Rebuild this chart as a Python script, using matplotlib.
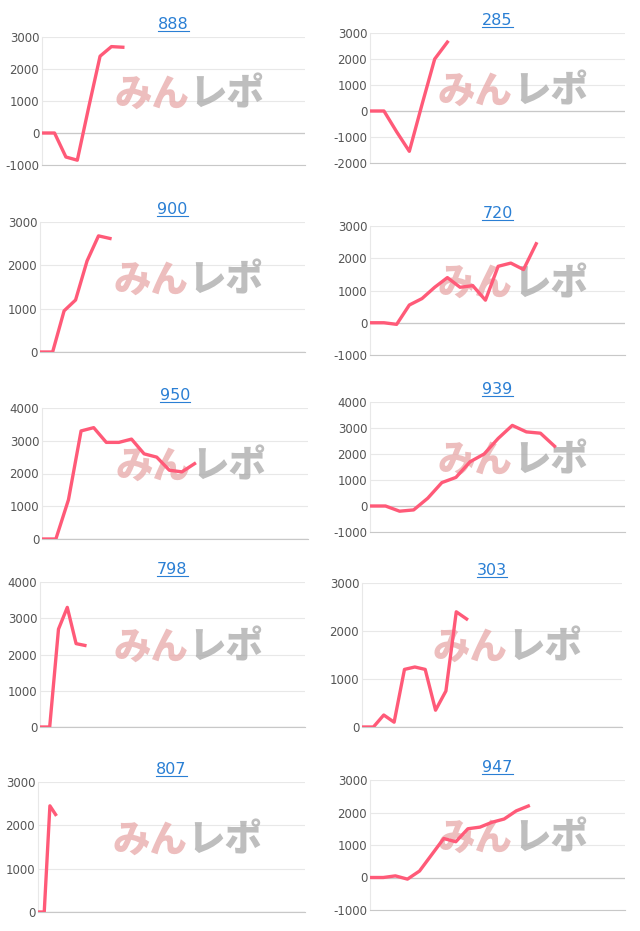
import matplotlib.pyplot as plt

plt.rcParams["axes.unicode_minus"] = False

titles = ["888", "285", "900", "720", "950", "939", "798", "303", "807", "947"]
series = [
    [0, 0, -750, -850, 800, 2400, 2700, 2680],
    [0, 0, -800, -1550, 250, 2000, 2650],
    [0, 0, 950, 1200, 2100, 2680, 2620],
    [0, 0, -50, 550, 750, 1100, 1400, 1100, 1150, 700, 1750, 1850, 1650, 2450],
    [0, 0, 1200, 3300, 3400, 2950, 2950, 3050, 2600, 2500, 2100, 2050, 2300],
    [0, 0, -200, -150, 300, 900, 1100, 1700, 2000, 2600, 3100, 2850, 2800, 2300],
    [0, 0, 2700, 3300, 2300, 2250],
    [0, 0, 250, 100, 1200, 1250, 1200, 350, 750, 2400, 2250],
    [0, 0, 2450, 2250],
    [0, 0, 50, -50, 200, 700, 1200, 1100, 1500, 1550, 1700, 1800, 2050, 2200],
]
yticks = [
    [-1000, 0, 1000, 2000, 3000],
    [-2000, -1000, 0, 1000, 2000, 3000],
    [0, 1000, 2000, 3000],
    [-1000, 0, 1000, 2000, 3000],
    [0, 1000, 2000, 3000, 4000],
    [-1000, 0, 1000, 2000, 3000, 4000],
    [0, 1000, 2000, 3000, 4000],
    [0, 1000, 2000, 3000],
    [0, 1000, 2000, 3000],
    [-1000, 0, 1000, 2000, 3000],
]
slots = [23, 20, 23, 20, 21, 18, 30, 25, 47, 21]

# axes boxes in pixels: (left, top, right, bottom)
boxes = [
    (42, 37, 305, 165), (370, 33, 625, 163),
    (40, 222, 305, 352), (370, 226, 625, 355),
    (42, 408, 308, 539), (370, 402, 625, 532),
    (40, 582, 305, 727), (362, 583, 622, 727),
    (38, 782, 305, 912), (370, 780, 625, 910),
]

W, H = 640, 931
fig = plt.figure(figsize=(W / 100, H / 100), dpi=100)
red = "#ff5a78"
jp = ["Noto Sans CJK JP", "DejaVu Sans"]

for i in range(10):
    l, t, r, b = boxes[i]
    ax = fig.add_axes([l / W, 1 - b / H, (r - l) / W, (b - t) / H])
    ax.plot(range(len(series[i])), series[i], color=red, lw=2.4, zorder=3)
    yt = yticks[i]
    ax.set_ylim(yt[0], yt[-1])
    ax.set_yticks(yt)
    ax.set_xlim(-0.1, slots[i])
    ax.set_xticks([])
    ax.grid(axis="y", color="#e8e8e8", lw=0.8)
    for s in ["top", "right"]:
        ax.spines[s].set_visible(False)
    ax.spines["left"].set_color("#e8e8e8")
    ax.spines["bottom"].set_color("#c8c8c8")
    ax.axhline(0, color="#c8c8c8", lw=0.9, zorder=1)
    ax.tick_params(axis="y", length=0, labelsize=8.5, labelcolor="#555555", pad=2)
    ax.set_axisbelow(True)
    ax.set_title(titles[i], color="#2a7fd4", fontsize=11.5, pad=6)
    # watermark
    ax.text(0.56, 0.55, "みん", transform=ax.transAxes, fontsize=27, fontweight="black",
            family=jp, color="#e8a8a8", alpha=0.75, style="italic",
            ha="right", va="center", zorder=2)
    ax.text(0.56, 0.55, "レポ", transform=ax.transAxes, fontsize=27, fontweight="black",
            family=jp, color="#a8a8a8", alpha=0.75, style="italic",
            ha="left", va="center", zorder=2)

fig.canvas.draw()
for ax in fig.axes:
    bb = ax.title.get_window_extent()
    fig.add_artist(plt.Line2D([bb.x0 / W, bb.x1 / W], [(bb.y0 + 1) / H] * 2,
                              color="#2a7fd4", lw=0.8))

fig.savefig("out.png", dpi=100)
